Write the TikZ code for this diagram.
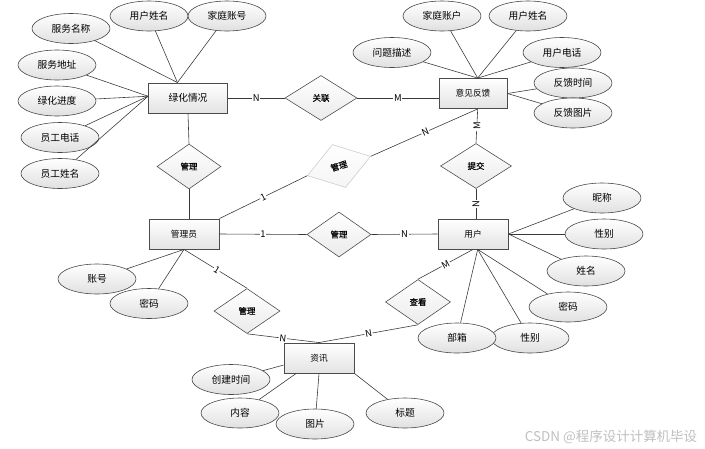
\documentclass[tikz,border=0pt]{standalone}
\usepackage{fontspec}
\setmainfont{Noto Sans CJK SC}
\newfontfamily\relfont{Noto Sans CJK SC}[FakeBold=0.5]
\usepackage{tikz}
\usetikzlibrary{shapes.geometric,calc}
\tikzset{
  entity/.style = {draw=gray!60!black, line width=0.75pt, rectangle, top color=white,
                   bottom color=gray!22, minimum width=2.1cm, minimum height=0.9cm,
                   inner sep=0pt, font=\fontsize{7.4}{8}\selectfont},
  attr/.style   = {draw=gray!55!black, line width=0.5pt, ellipse, top color=white,
                   bottom color=gray!24, minimum width=2.34cm, minimum height=0.9cm,
                   inner sep=0pt, font=\fontsize{8.3}{10}\selectfont},
  rel/.style    = {draw=gray!60!black, line width=0.5pt, diamond, top color=white,
                   bottom color=gray!16, minimum width=2.0cm, minimum height=1.35cm,
                   inner sep=0pt, font=\relfont\fontsize{7.2}{8}\selectfont},
  link/.style   = {draw=gray!45!black, line width=0.5pt},
  card/.style   = {fill=white, inner sep=0.6pt, font=\fontsize{8}{9}\selectfont},
}

\begin{document}
\begin{tikzpicture}[x=0.03cm,y=-0.03cm]
\useasboundingbox (0,0) rectangle (705,448);
% ---- entities ----
\node[entity, minimum width=2.37cm, font=\fontsize{8.3}{10}\selectfont] (lh) at (188,98) {绿化情况};
\node[entity, minimum width=2.04cm] (yj) at (473,93.5) {意见反馈};
\node[entity] (gly) at (184,234) {管理员};
\node[entity] (yh) at (473,234) {用户};
\node[entity] (zx) at (319,358) {资讯};

% ---- relations ----
\node[rel, minimum width=2.16cm] (gl) at (321,98) {关联};
\node[rel, minimum width=1.92cm] (gl1) at (189,166.5) {管理};
\node[rel, draw=gray!40, bottom color=gray!8, rotate=17, minimum width=1.98cm] (gl2) at (339,166) {管理};
\node[rel, minimum width=2.13cm] (tj) at (476,166) {提交};
\node[rel, minimum width=1.92cm] (gl3) at (339,234.5) {管理};
\node[rel, minimum width=1.95cm] (ck) at (418,302) {查看};
\node[rel, minimum width=1.98cm] (gl4) at (247,311) {管理};

% ---- attributes of 绿化情况 ----
\node[attr] (lh1) at (71,28.5) {服务名称};
\node[attr] (lh2) at (149,16) {用户姓名};
\node[attr] (lh3) at (227,16) {家庭账号};
\node[attr] (lh4) at (57,65) {服务地址};
\node[attr] (lh5) at (57,101) {绿化进度};
\node[attr] (lh6) at (60,137.5) {员工电话};
\node[attr] (lh7) at (60,173.5) {员工姓名};
\foreach \a in {lh1,lh2,lh3} \draw[link] (\a) -- ([xshift=-9pt]lh.north);
\foreach \a in {lh4,lh5,lh6,lh7} \draw[link] (\a) -- ([yshift=1.5pt]lh.west);

% ---- attributes of 意见反馈 ----
\node[attr] (yj1) at (442,16) {家庭账户};
\node[attr] (yj2) at (392,52.5) {问题描述};
\node[attr] (yj3) at (528,16) {用户姓名};
\node[attr] (yj4) at (562,52.5) {用户电话};
\node[attr] (yj5) at (573,83) {反馈时间};
\node[attr] (yj6) at (573,113) {反馈图片};
\foreach \a in {yj1,yj2,yj3,yj4} \draw[link] (\a) -- ([xshift=4pt]yj.north);
\foreach \a in {yj5,yj6} \draw[link] (\a) -- (yj.east);

% ---- attributes of 用户 ----
\node[attr] (yh1) at (602,198) {昵称};
\node[attr] (yh2) at (604,234) {性别};
\node[attr] (yh3) at (586,271) {姓名};
\node[attr] (yh4) at (568,307) {密码};
\node[attr] (yh6) at (530,338) {性别};
\node[attr] (yh5) at (457,338) {部箱};
\foreach \a in {yh1,yh2,yh3} \draw[link] (\a) -- (yh.east);
\foreach \a in {yh4,yh5,yh6} \draw[link] (\a) -- ([xshift=4pt]yh.south);

% ---- attributes of 管理员 ----
\node[attr] (gy1) at (97,279) {账号};
\node[attr] (gy2) at (149,303.5) {密码};
\foreach \a in {gy1,gy2} \draw[link] (\a) -- (gly.south);

% ---- attributes of 资讯 ----
\node[attr] (zx1) at (231,379.5) {创建时间};
\node[attr] (zx2) at (240,413) {内容};
\node[attr] (zx3) at (315,424) {图片};
\node[attr] (zx4) at (405,413) {标题};
\draw[link] (zx1) -- ([yshift=-6pt]zx.west);
\draw[link] (zx2) -- ([xshift=-19.5pt]zx.south);
\draw[link] (zx3) -- (zx.south);
\draw[link] (zx4) -- (zx.south east);

% ---- relationship lines ----
\draw[link] (lh.east) -- node[card]{N} (gl.west);
\draw[link] (gl.east) -- node[card]{M} (gl.east -| yj.west);
\draw[link] (lh.south) -- (gl1.north);
\draw[link] (gl1.south) -- (gly.north -| gl1.south);
\draw[link] ([xshift=4pt]yj.south) -- node[card, sloped, pos=0.49]{N} (gl2.east);
\draw[link] (gl2.west) -- node[card, sloped]{1} (gly.north east);
\draw[link] ([xshift=4pt]yj.south) -- node[card, rotate=90]{M} (tj.north);
\draw[link] (tj.south) -- node[card, rotate=90]{N} (tj.south |- yh.north);
\draw[link] (gly.east) -- node[card]{1} (gl3.west);
\draw[link] (gl3.east) -- node[card]{N} (yh.west);
\draw[link] (gly.south) -- node[card, sloped, pos=0.52]{1} (gl4.north);
\draw[link] (gl4.south) -- node[card, sloped]{N} (zx.north);
\draw[link] (yh.south) -- node[card, sloped]{M} (ck.north);
\draw[link] (ck.south) -- node[card, sloped]{N} (zx.north);

\node[font=\fontsize{11.5}{14}\selectfont, text=gray!50] (wm) at (611,437) {CSDN @程序设计计算机毕设};
\end{tikzpicture}
\end{document}
